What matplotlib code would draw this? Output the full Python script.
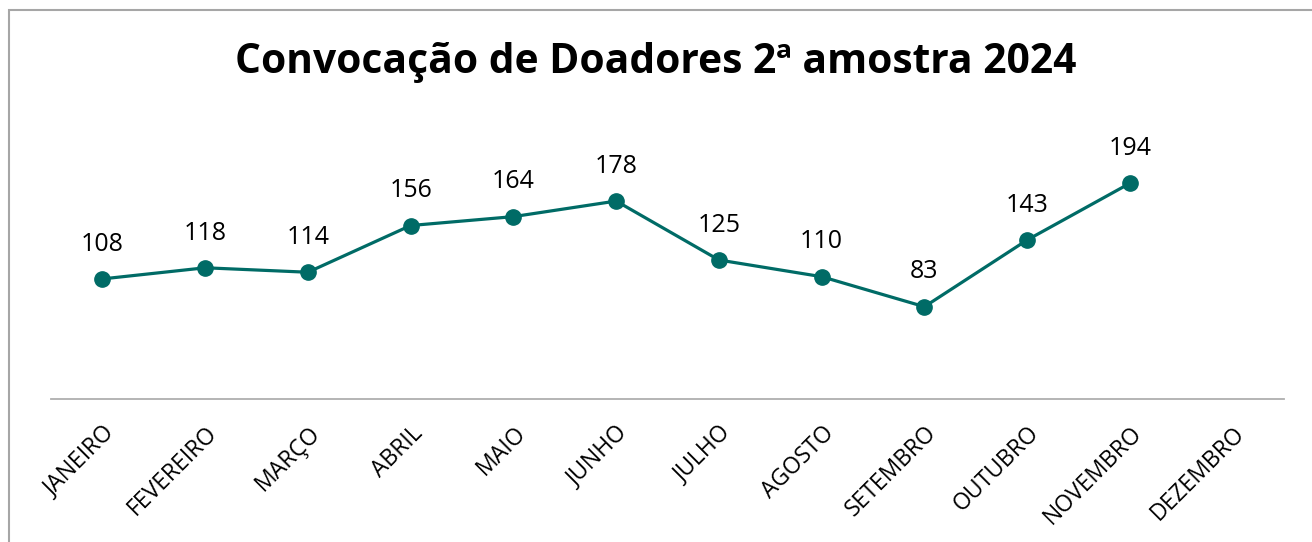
import matplotlib.pyplot as plt
from matplotlib.patches import Rectangle

meses = ['JANEIRO', 'FEVEREIRO', 'MARÇO', 'ABRIL', 'MAIO', 'JUNHO', 'JULHO',
         'AGOSTO', 'SETEMBRO', 'OUTUBRO', 'NOVEMBRO', 'DEZEMBRO']
doadores = [108, 118, 114, 156, 164, 178, 125, 110, 83, 143, 194]

cor = '#006B66'
plt.rcParams['font.family'] = ['Open Sans', 'DejaVu Sans']

fig = plt.figure(figsize=(13.12, 5.42), dpi=100)
ax = fig.add_axes([0.0389, 0.2638, 0.9398, 0.513])

x = list(range(len(doadores)))
ax.plot(x, doadores, color=cor, linewidth=2.3, marker='o', markersize=11, zorder=3)
for xi, v in zip(x, doadores):
    ax.annotate(str(v), (xi, v), xytext=(0, 16), textcoords='offset points',
                ha='center', va='bottom', fontsize=18, color='#000000')

ax.set_xlim(-0.5, len(meses) - 0.5)
ax.set_ylim(0, 250)
ax.set_xticks(range(len(meses)))
ax.set_xticklabels(meses, rotation=45, ha='right', va='top',
                   rotation_mode='anchor', fontsize=16.5)
ax.tick_params(axis='x', length=0, pad=16)
ax.set_yticks([])
for s in ['top', 'right', 'left']:
    ax.spines[s].set_visible(False)
ax.spines['bottom'].set_color('#AFAFAF')
ax.spines['bottom'].set_linewidth(1.3)

fig.text(0.5, 0.884, 'Convocação de Doadores 2ª amostra 2024', ha='center',
         va='center', fontsize=29.3, fontweight='bold')

# moldura do gráfico
fig.patches.append(Rectangle((9 / 1312, -0.1), 1.2, (542 - 10) / 542 + 0.1,
                             transform=fig.transFigure, fill=False,
                             edgecolor='#A6A6A6', linewidth=1.5))

fig.savefig('out.png', dpi=100)
